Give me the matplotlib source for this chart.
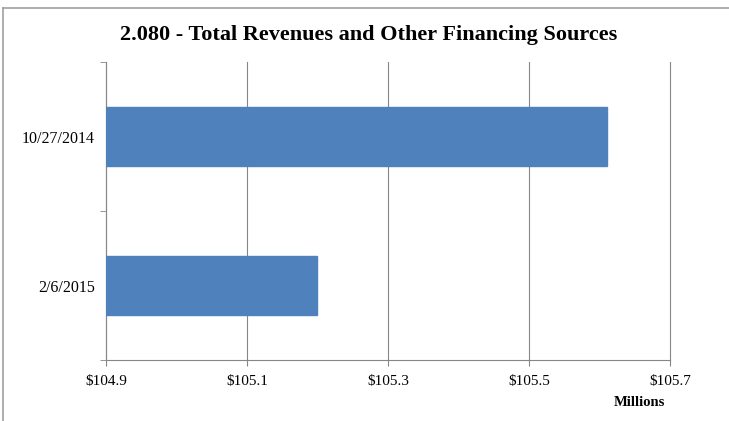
import matplotlib
matplotlib.use('Agg')
from matplotlib import pyplot as plt
from matplotlib.lines import Line2D

# data
categories = ['2/6/2015', '10/27/2014']
values = [105.2, 105.61]
x_ticks = [104.9, 105.1, 105.3, 105.5, 105.7]
x_labels = ['$104.9', '$105.1', '$105.3', '$105.5', '$105.7']

plt.rcParams['font.family'] = ['Liberation Serif', 'DejaVu Serif']

fig = plt.figure(figsize=(7.29, 4.21), dpi=100)
ax = fig.add_axes([0.1454, 0.1449, 0.7736, 0.7078])

base = x_ticks[0]
ax.barh(range(len(categories)), [v - base for v in values], left=base,
        height=0.4, color='#4f81bd', edgecolor='#4f81bd', zorder=3)

ax.set_xlim(x_ticks[0], x_ticks[-1])
ax.set_ylim(-0.5, len(categories) - 0.5)
ax.set_xticks(x_ticks)
ax.set_xticklabels(x_labels, fontsize=11)
ax.set_yticks(range(len(categories)))
ax.set_yticklabels(categories, fontsize=11.5)
ax.set_yticks([-0.5, 0.5, 1.5], minor=True)
ax.tick_params(axis='y', which='major', length=0, pad=8)
ax.tick_params(axis='y', which='minor', length=4, color='#868686')
ax.tick_params(axis='x', length=4, color='#868686', pad=7)

ax.grid(axis='x', color='#868686', linewidth=0.8, zorder=0)
for gl in ax.get_xgridlines():
    gl.set_clip_on(False)
for s in ['top', 'right']:
    ax.spines[s].set_visible(False)
for s in ['left', 'bottom']:
    ax.spines[s].set_color('#868686')
    ax.spines[s].set_linewidth(0.8)

fig.text(0.505, 0.918, '2.080 - Total Revenues and Other Financing Sources',
         ha='center', va='center', fontsize=16, fontweight='bold')
fig.text(0.877, 0.045, 'Millions', ha='center', va='center',
         fontsize=10.5, fontweight='bold')

# outer chart frame (only top and left visible in crop)
fig.add_artist(Line2D([0.004, 0.004], [0, 0.98], transform=fig.transFigure,
                      color='#a0a0a0', linewidth=1.2))
fig.add_artist(Line2D([0.004, 1], [0.98, 0.98], transform=fig.transFigure,
                      color='#a0a0a0', linewidth=1.2))

fig.savefig('out.png', dpi=100)
